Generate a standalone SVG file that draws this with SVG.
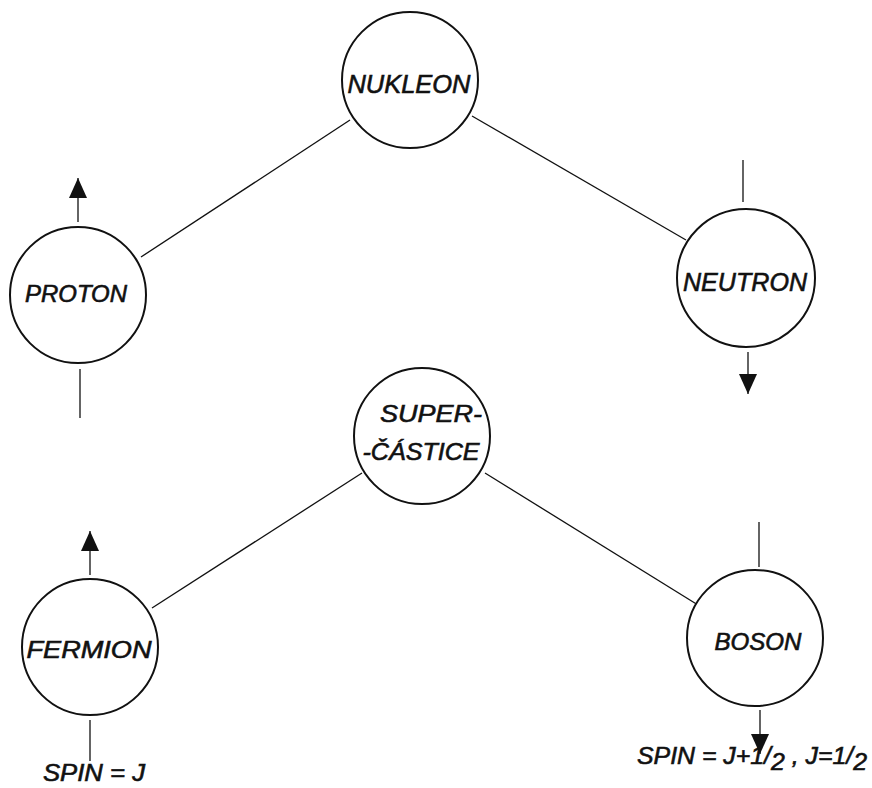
<svg xmlns="http://www.w3.org/2000/svg" width="872" height="788" viewBox="0 0 872 788">
<style>
.n{fill:#fff;stroke:#111;stroke-width:2}
.c{stroke:#111;stroke-width:1.3;fill:none}
.t{font-family:"Liberation Sans",Arial,sans-serif;font-style:italic;fill:#111;stroke:#111;stroke-width:0.6;text-anchor:middle}
</style>
<defs>
<marker id="ah" markerUnits="userSpaceOnUse" markerWidth="20" markerHeight="20" refX="20" refY="10" orient="auto" viewBox="0 0 20 20">
<path d="M0,1 L20,10 L0,19 Z" fill="#111"/>
</marker>
</defs>
<rect width="872" height="788" fill="#fff"/>
<g id="connectors">
<line class="c" x1="350" y1="120" x2="141" y2="257"/>
<line class="c" x1="472" y1="116" x2="686" y2="240"/>
<line class="c" x1="362" y1="473" x2="152" y2="608"/>
<line class="c" x1="485" y1="473" x2="698" y2="605"/>
<line class="c" x1="78" y1="222" x2="78" y2="178" marker-end="url(#ah)"/>
<line class="c" x1="80" y1="369" x2="80" y2="418"/>
<line class="c" x1="743" y1="160" x2="743" y2="202"/>
<line class="c" x1="748" y1="352" x2="748" y2="394" marker-end="url(#ah)"/>
<line class="c" x1="90" y1="575" x2="90" y2="531" marker-end="url(#ah)"/>
<line class="c" x1="90" y1="720" x2="90" y2="761"/>
<line class="c" x1="759" y1="522" x2="759" y2="567"/>
<line class="c" x1="760" y1="710" x2="760" y2="754" marker-end="url(#ah)"/>
</g>
<g id="nukleon"><circle class="n" cx="410" cy="80" r="68"/><text class="t" x="409" y="93" font-size="25" textLength="123" lengthAdjust="spacingAndGlyphs">NUKLEON</text></g>
<g id="proton"><circle class="n" cx="78" cy="295" r="68"/><text class="t" x="76" y="302" font-size="23" textLength="102" lengthAdjust="spacingAndGlyphs">PROTON</text></g>
<g id="neutron"><circle class="n" cx="746" cy="278" r="69"/><text class="t" x="745" y="291" font-size="25" textLength="124" lengthAdjust="spacingAndGlyphs">NEUTRON</text></g>
<g id="supercastice"><circle class="n" cx="422" cy="436" r="68"/><text class="t" x="431" y="422" font-size="24" textLength="102" lengthAdjust="spacingAndGlyphs">SUPER-</text><text class="t" x="421" y="460" font-size="24" textLength="117" lengthAdjust="spacingAndGlyphs">-ČÁSTICE</text></g>
<g id="fermion"><circle class="n" cx="90" cy="647" r="68"/><text class="t" x="89" y="658" font-size="24" textLength="125" lengthAdjust="spacingAndGlyphs">FERMION</text></g>
<g id="boson"><circle class="n" cx="755" cy="638" r="68"/><text class="t" x="758" y="650" font-size="23" textLength="87" lengthAdjust="spacingAndGlyphs">BOSON</text></g>
<text class="t" x="94" y="781" font-size="23" textLength="102" lengthAdjust="spacingAndGlyphs">SPIN = J</text>
<text class="t" x="752" y="764" font-size="24" textLength="230" lengthAdjust="spacingAndGlyphs">SPIN = J+1/<tspan dy="6">2</tspan><tspan dy="-6"> , J=1/</tspan><tspan dy="6">2</tspan></text>
</svg>
